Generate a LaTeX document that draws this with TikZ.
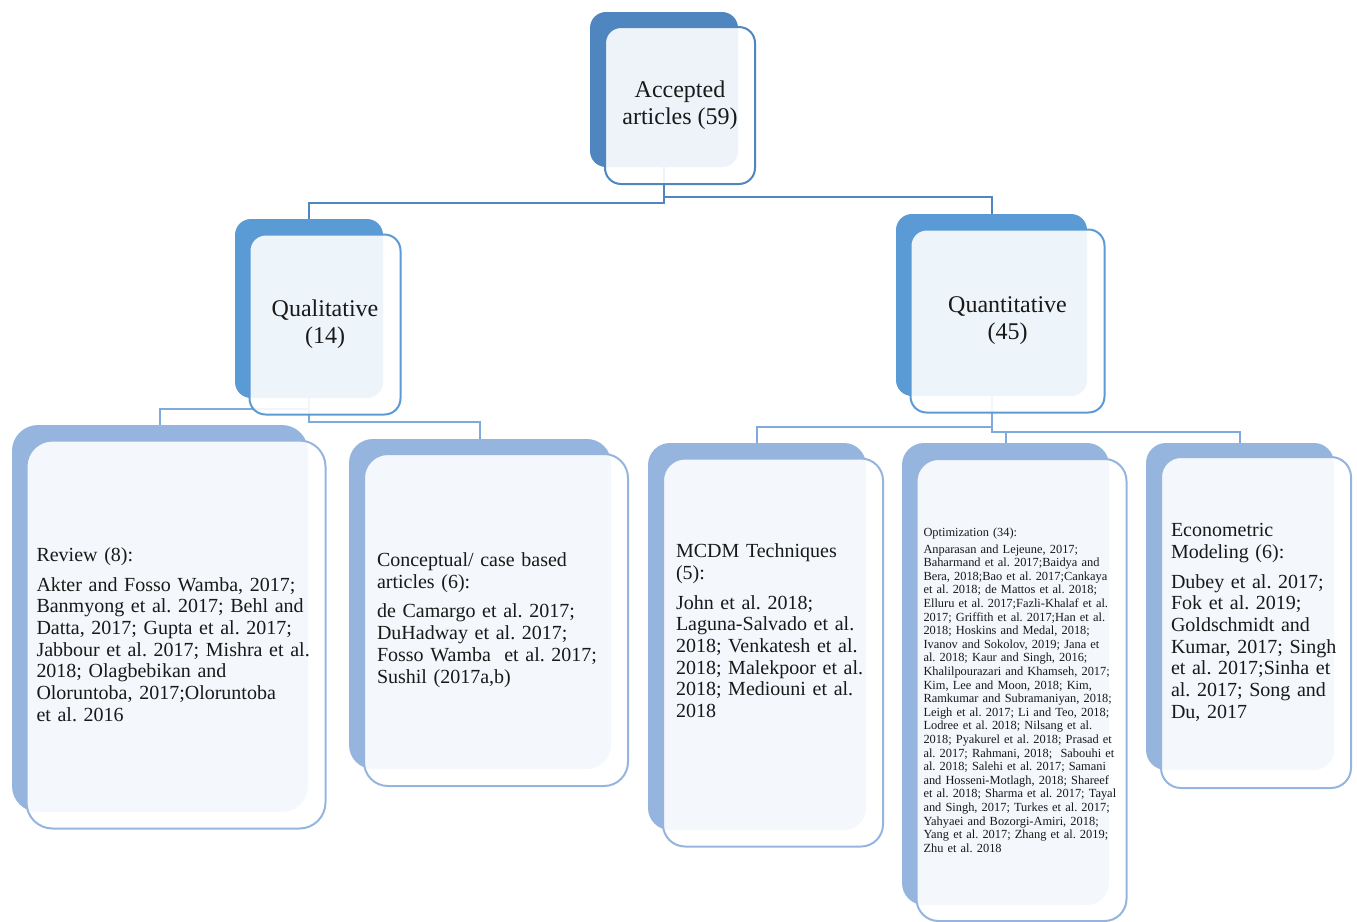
\documentclass[tikz,border=0pt]{standalone}
\usepackage{fontspec}
\setmainfont{Liberation Serif}
\usepackage{tikz}
\frenchspacing
\definecolor{rootblue}{RGB}{79,134,192}
\definecolor{midblue}{RGB}{91,155,213}
\definecolor{leafblue}{RGB}{149,181,222}
\definecolor{linkblue}{RGB}{128,170,220}
\tikzset{
    backbox/.style = {
        rectangle,
        rounded corners=8pt,
        inner sep=0pt,
        outer sep=0pt
    },
    frontbox/.style = {
        backbox,
        fill=white,
        fill opacity=0.9,
        text opacity=1,
        line width=1pt,
        text=black!90
    },
    headnode/.style = {
        frontbox,
        align=center,
        font=\fontsize{12}{13.5}\selectfont
    },
    leafnode/.style = {
        frontbox,
        draw=leafblue,
        rounded corners=12pt,
        align=left,
        inner xsep=6.5pt,
        font=\fontsize{10}{10.85}\selectfont
    },
    link/.style = {
        draw=rootblue,
        line width=1pt
    }
}

\begin{document}
\begin{tikzpicture}[x=0.5pt, y=-0.5pt]
    \useasboundingbox (0,0) rectangle (1357,922);

    % back boxes
    \node [backbox, fill=rootblue, minimum width=74pt, minimum height=77.5pt] (root) at (664,89.5) {};
    \node [backbox, fill=midblue, minimum width=74pt, minimum height=89.5pt] (qual) at (309,308.5) {};
    \node [backbox, fill=midblue, minimum width=95.5pt, minimum height=91pt] (quant) at (991.5,305) {};
    \node [backbox, fill=leafblue, rounded corners=13pt, minimum width=148pt, minimum height=193.5pt] (review) at (160,618.5) {};
    \node [backbox, fill=leafblue, rounded corners=12pt, minimum width=131pt, minimum height=165pt] (concept) at (480,604) {};
    \node [backbox, fill=leafblue, rounded corners=11pt, minimum width=109pt, minimum height=193.5pt] (mcdm) at (757,636.5) {};
    \node [backbox, fill=leafblue, rounded corners=11pt, minimum width=103.5pt, minimum height=231pt] (optim) at (1005.5,674) {};
    \node [backbox, fill=leafblue, rounded corners=10pt, minimum width=94pt, minimum height=163.5pt] (econ) at (1240,606.5) {};

    % connectors
    \draw [link] (root.south) -- ++(0,36) -| (qual.north);
    \draw [link] (root.south) -- ++(0,30) -| (quant.north);
    \draw [link, draw=linkblue] (qual.south) -- ++(0,11) -| (review.north);
    \draw [link, draw=linkblue] (qual.south) -- ++(0,24) -| (concept.north);
    \draw [link, draw=linkblue] (quant.south) -- ++(0,31) -| (mcdm.north);
    \draw [link, draw=linkblue] (quant.south) -- ++(0,36) -| (optim.north);
    \draw [link, draw=linkblue] (quant.south) -- ++(0,36) -| (econ.north);

    % front boxes with the texts
    \node [headnode, draw=rootblue, minimum width=75pt, minimum height=78.5pt] (rootfront) at ([shift={(16,16)}]root.center) {Accepted\\articles (59)};
    \node [headnode, draw=midblue, minimum width=75.5pt, minimum height=90pt] (qualfront) at ([shift={(16,16)}]qual.center) {Qualitative\\(14)};
    \node [headnode, draw=midblue, minimum width=97pt, minimum height=91.5pt] (quantfront) at ([shift={(16,16)}]quant.center) {Quantitative\\(45)};
    \node [leafnode, rounded corners=13pt, inner xsep=5pt, text width=139.5pt, minimum width=149.5pt, minimum height=194pt] (reviewfront) at ([shift={(16,16)}]review.center) {%
        Review (8):\\[4pt]
        Akter and Fosso Wamba, 2017;\\
        Banmyong et al. 2017; Behl and\\
        Datta, 2017; Gupta et al. 2017;\\
        Jabbour et al. 2017; Mishra et al.\\
        2018; Olagbebikan and\\
        Oloruntoba, 2017;Oloruntoba\\
        et al. 2016};
    \node [leafnode, text width=119pt, minimum width=132pt, minimum height=166pt] (conceptfront) at ([shift={(16,16)}]concept.center) {%
        Conceptual/ case based\\
        articles (6):\\[4pt]
        de Camargo et al. 2017;\\
        DuHadway et al. 2017;\\
        Fosso Wamba~~et al. 2017;\\
        Sushil (2017a,b)};
    \node [leafnode, rounded corners=11pt, text width=97pt, minimum width=110pt, minimum height=194pt] (mcdmfront) at ([shift={(16,16)}]mcdm.center) {%
        MCDM Techniques\\
        (5):\\[4pt]
        John et al. 2018;\\
        Laguna-Salvado et al.\\
        2018; Venkatesh et al.\\
        2018; Malekpoor et al.\\
        2018; Mediouni et al.\\
        2018\\ \mbox{}\\ \mbox{}};
    \node [leafnode, rounded corners=11pt, inner xsep=3.5pt, text width=98pt, minimum width=105pt, minimum height=231pt, font=\fontsize{6.2}{6.8}\selectfont] (optimfront) at ([shift={(16,16)}]optim.center) {%
        Optimization (34):\\[1.7pt]
        Anparasan and Lejeune, 2017;\\
        Baharmand et al. 2017;Baidya and\\
        Bera, 2018;Bao et al. 2017;Cankaya\\
        et al. 2018; de Mattos et al. 2018;\\
        Elluru et al. 2017;Fazli-Khalaf et al.\\
        2017; Griffith et al. 2017;Han et al.\\
        2018; Hoskins and Medal, 2018;\\
        Ivanov and Sokolov, 2019; Jana et\\
        al. 2018; Kaur and Singh, 2016;\\
        Khalilpourazari and Khamseh, 2017;\\
        Kim, Lee and Moon, 2018; Kim,\\
        Ramkumar and Subramaniyan, 2018;\\
        Leigh et al. 2017; Li and Teo, 2018;\\
        Lodree et al. 2018; Nilsang et al.\\
        2018; Pyakurel et al. 2018; Prasad et\\
        al. 2017; Rahmani, 2018;~~Sabouhi et\\
        al. 2018; Salehi et al. 2017; Samani\\
        and Hosseni-Motlagh, 2018; Shareef\\
        et al. 2018; Sharma et al. 2017; Tayal\\
        and Singh, 2017; Turkes et al. 2017;\\
        Yahyaei and Bozorgi-Amiri, 2018;\\
        Yang et al. 2017; Zhang et al. 2019;\\
        Zhu et al. 2018};
    \node [leafnode, rounded corners=10pt, inner xsep=5pt, text width=85pt, minimum width=95pt, minimum height=165.5pt] (econfront) at ([shift={(16,16)}]econ.center) {%
        Econometric\\
        Modeling (6):\\[4pt]
        Dubey et al. 2017;\\
        Fok et al. 2019;\\
        Goldschmidt and\\
        Kumar, 2017; Singh\\
        et al. 2017;Sinha et\\
        al. 2017; Song and\\
        Du, 2017};
\end{tikzpicture}
\end{document}
